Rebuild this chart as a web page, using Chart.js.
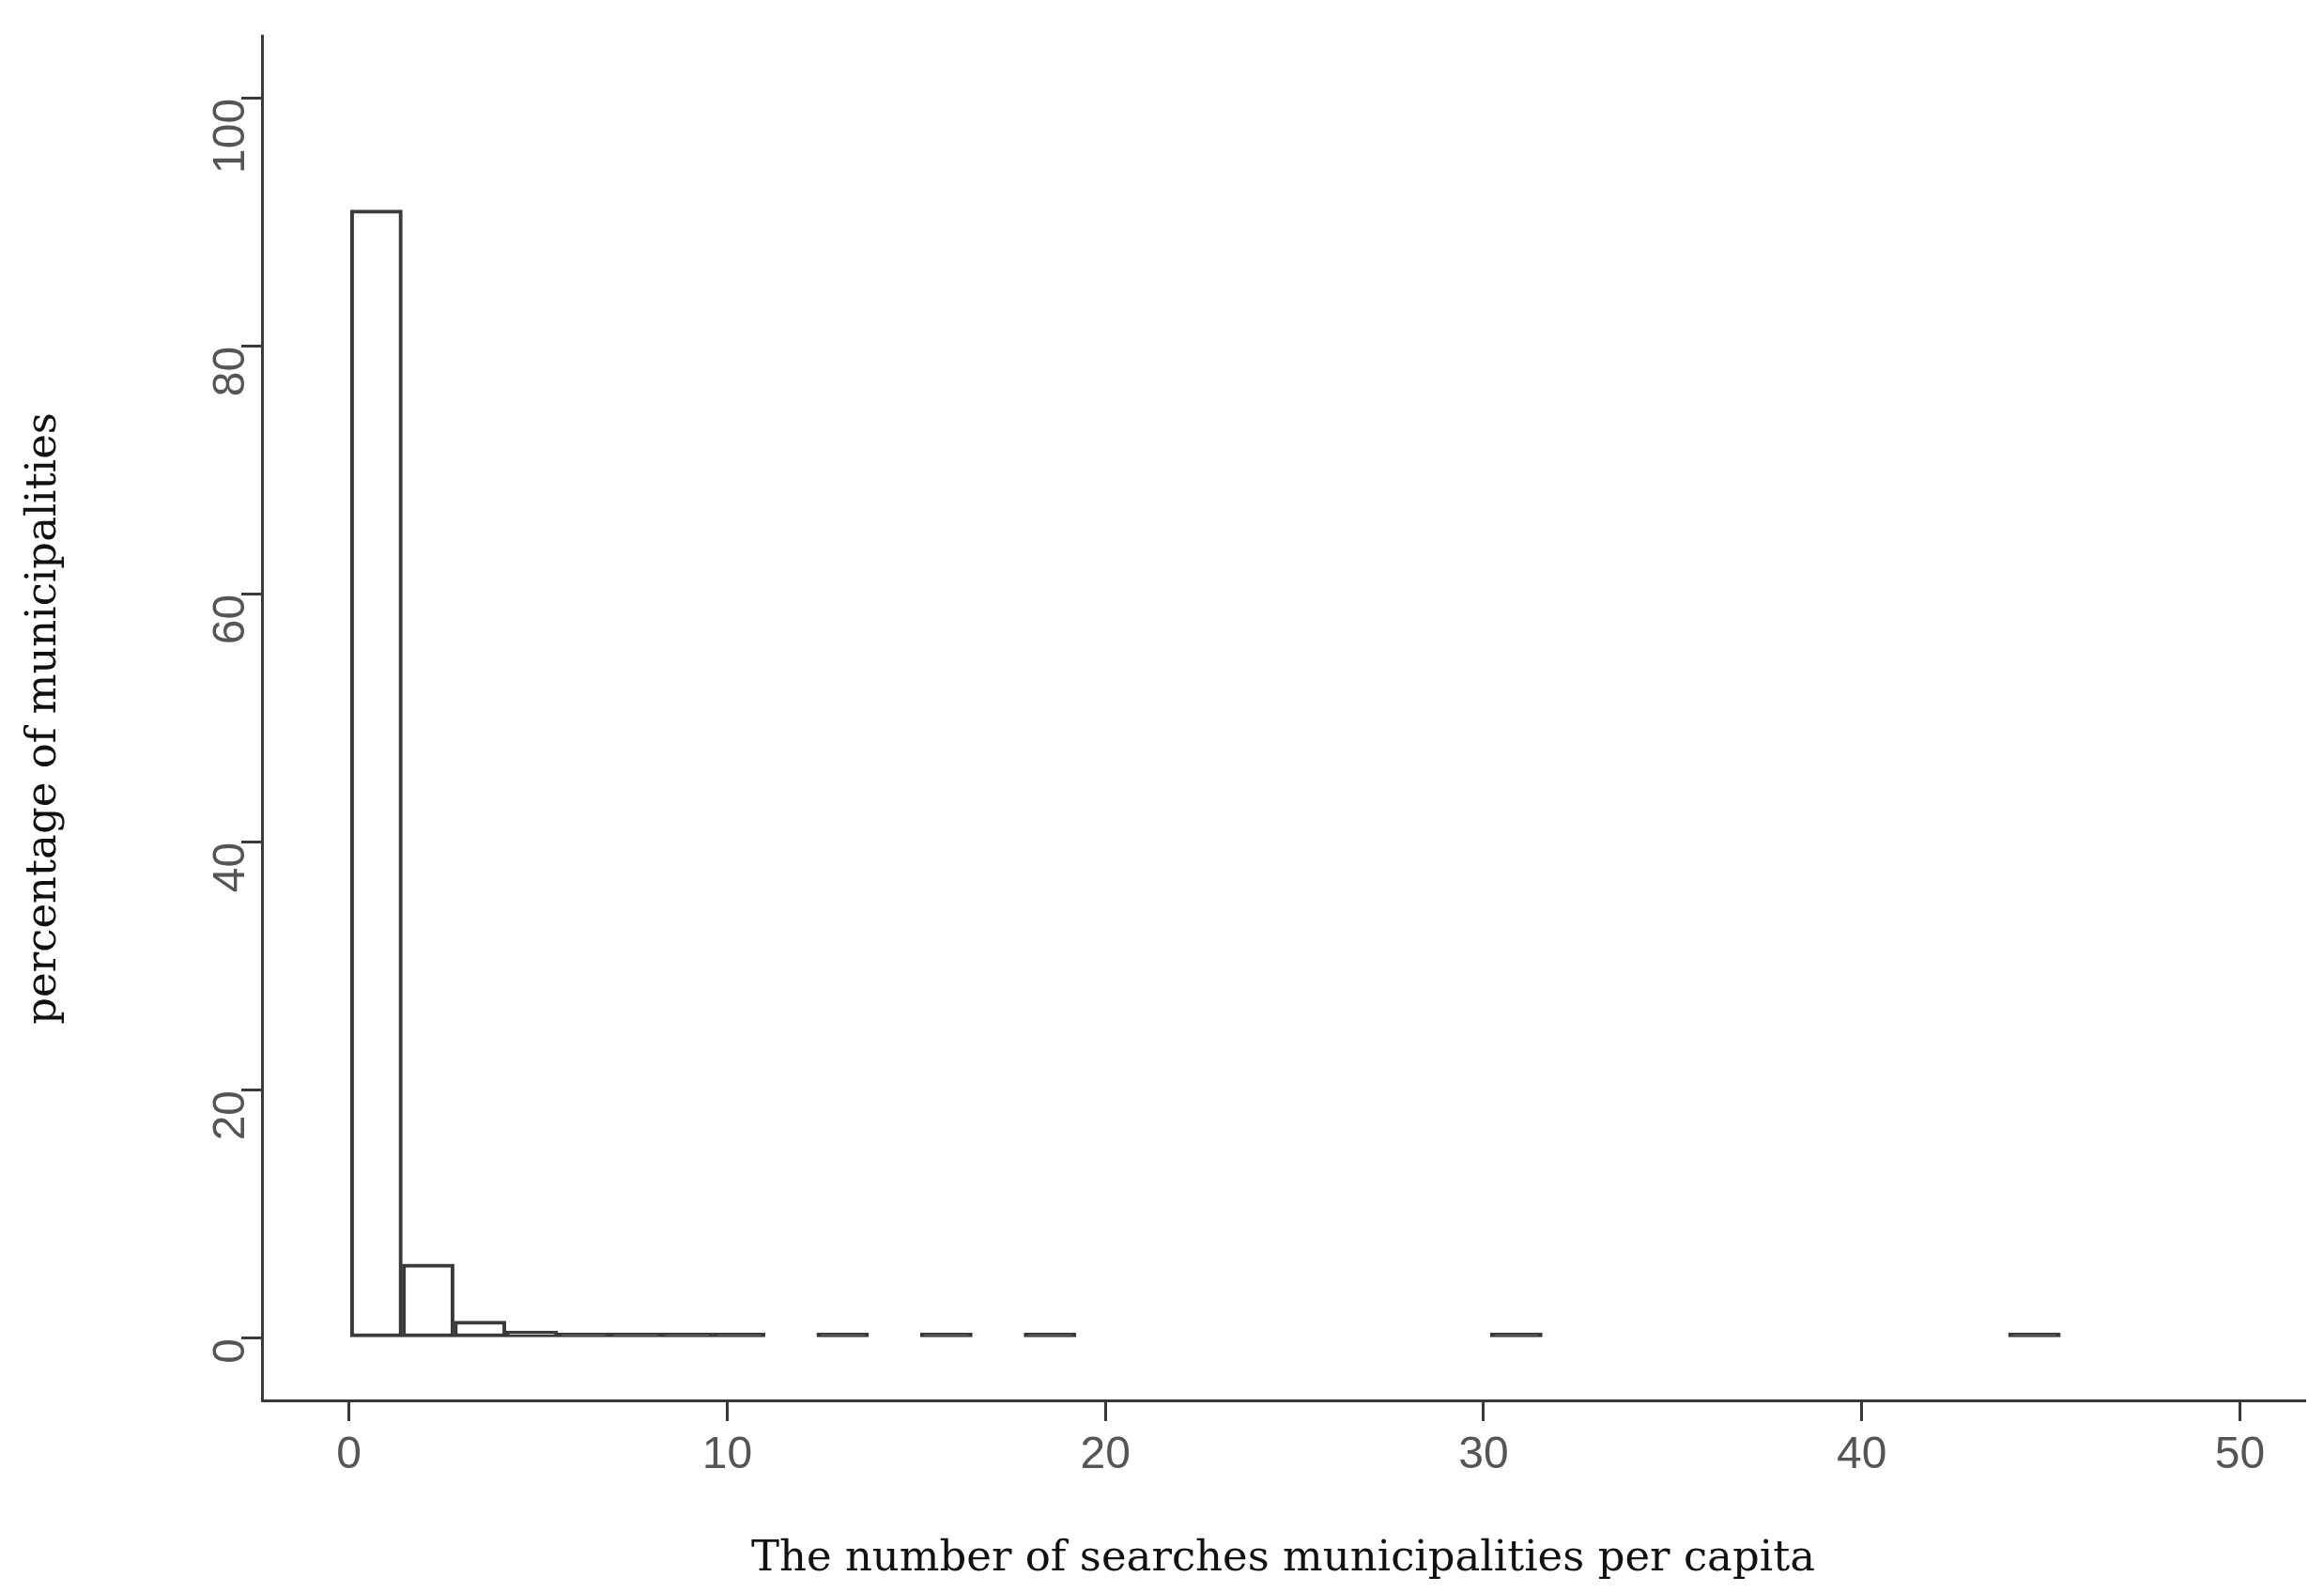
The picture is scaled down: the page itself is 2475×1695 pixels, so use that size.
<!DOCTYPE html>
<html>
<head>
<meta charset="utf-8">
<script src="https://cdn.jsdelivr.net/npm/chart.js@4"></script>
<style>
  html, body { margin: 0; padding: 0; background: #fff; }
  #wrap { width: 2475px; height: 1695px; }
</style>
</head>
<body>
<div id="wrap"><canvas id="hist"></canvas></div>
<script>
// --- DATA ---
const binStart = 0.04;
const binWidth = 1.37;
// percentage per bin, null = empty bin (nothing drawn)
const binValues = [91, 6, 1.4, 0.6, 0.25, 0.2, 0.05, 0.05,
  null, 0.02, null, 0.02, null, 0.02,
  null, null, null, null, null, null, null, null, 0.02,
  null, null, null, null, null, null, null, null, null, 0.02];
const xTicks = [0, 10, 20, 30, 40, 50];
const yTicks = [0, 20, 40, 60, 80, 100];

const points = binValues.map((v, i) => ({ x: binStart + binWidth * (i + 0.5), y: v }));

const ink = '#3a3a3a';
const tickFont = { family: 'Liberation Sans', size: 48 };
const titleFont = { family: 'DejaVu Serif', size: 45 };

new Chart(document.getElementById('hist'), {
  type: 'bar',
  data: {
    datasets: [{
      data: points,
      // very small bins show only as a thick line in the original
      backgroundColor: ctx => (ctx.raw && ctx.raw.y < 0.5 ? ink : '#ffffff'),
      borderColor: ink,
      borderWidth: 4,
      borderSkipped: false,
      minBarLength: 6,
      barPercentage: 1,
      categoryPercentage: 1
    }]
  },
  options: {
    responsive: true,
    maintainAspectRatio: false,
    animation: false,
    layout: { padding: { top: 32, right: 21, left: 0, bottom: 0 } },
    plugins: { legend: { display: false }, tooltip: { enabled: false } },
    scales: {
      x: {
        type: 'linear',
        offset: false,
        min: -2.3, max: 51.7,
        afterBuildTicks: s => { s.ticks = xTicks.map(v => ({ value: v })); },
        afterFit: s => { s.height = 204; },
        grid: { drawOnChartArea: false, offset: false, color: ink, lineWidth: 3, tickLength: 22 },
        border: { color: ink, width: 3 },
        ticks: { color: '#555', font: tickFont, padding: 8, maxRotation: 0 },
        title: { display: true, text: 'The number of searches municipalities per capita',
                 color: '#111', font: titleFont, padding: { top: 8, bottom: 8 } }
      },
      y: {
        min: -5, max: 105,
        afterBuildTicks: s => { s.ticks = yTicks.map(v => ({ value: v })); },
        afterFit: s => { s.width = 279; },
        grid: { drawOnChartArea: false, color: ink, lineWidth: 3, tickLength: 22 },
        border: { color: ink, width: 3 },
        ticks: { color: '#555', font: tickFont, padding: 10, minRotation: 90, maxRotation: 90 },
        title: { display: true, text: 'percentage of municipalities',
                 color: '#111', font: titleFont, padding: { top: 20, bottom: 30 } }
      }
    }
  }
});
</script>
</body>
</html>
